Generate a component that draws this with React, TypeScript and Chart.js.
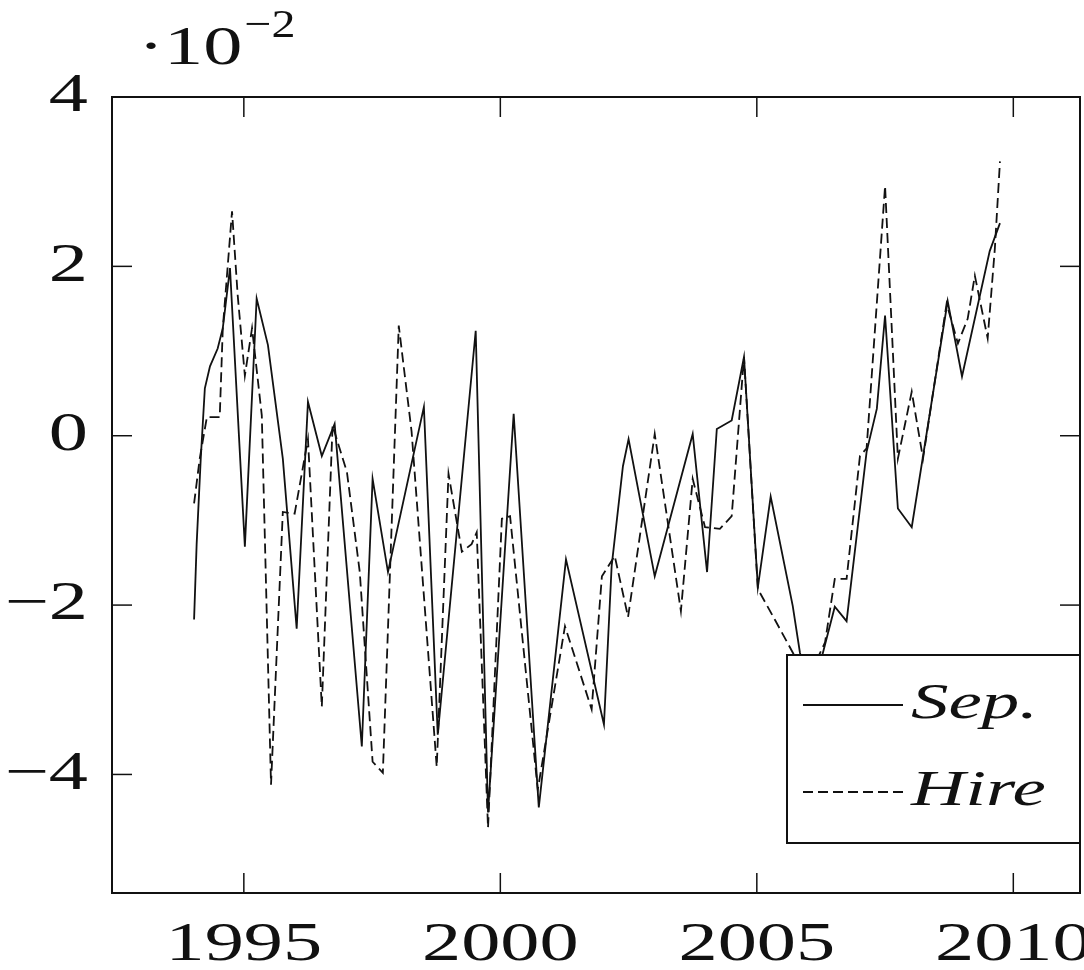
import React, { useEffect, useRef } from "react";
import { Chart, registerables } from "chart.js";

Chart.register(...registerables);

// ---- data (values in units of 10^-2) ----
const sepYears = [
  1994.03, 1994.08, 1994.16, 1994.24, 1994.34, 1994.49, 1994.59, 1994.73, 1995.02, 1995.25,
  1995.47, 1995.76, 1996.03, 1996.25, 1996.52, 1996.77, 1997.3, 1997.51, 1997.81, 1998.51,
  1998.78, 1999.52, 1999.76, 2000.26, 2000.75, 2001.28, 2002.02, 2002.17, 2002.39, 2002.5,
  2003.01, 2003.75, 2004.03, 2004.22, 2004.51, 2004.75, 2005.02, 2005.27, 2005.7, 2005.84,
  2006.05, 2006.29, 2006.52, 2006.75, 2007.14, 2007.34, 2007.5, 2007.75, 2008.02, 2008.72,
  2009.0, 2009.54, 2009.74,
];
const sepValues = [
  -2.17, -1.28, -0.27, 0.56, 0.82, 1.03, 1.27, 1.98, -1.31, 1.62,
  1.07, -0.27, -2.28, 0.4, -0.24, 0.14, -3.67, -0.51, -1.61, 0.34,
  -3.53, 1.24, -4.45, 0.26, -4.39, -1.46, -3.41, -1.54, -0.36, -0.04,
  -1.66, 0.02, -1.61, 0.08, 0.18, 0.93, -1.79, -0.72, -2.01, -2.56,
  -3.1, -2.56, -2.02, -2.19, -0.19, 0.32, 1.42, -0.86, -1.08, 1.59,
  0.7, 2.18, 2.51,
];
const hireYears = [
  1994.03, 1994.14, 1994.28, 1994.53, 1994.59, 1994.77, 1994.88, 1995.02, 1995.16, 1995.35,
  1995.53, 1995.76, 1995.99, 1996.25, 1996.52, 1996.73, 1997.01, 1997.26, 1997.51, 1997.71,
  1998.02, 1998.27, 1998.76, 1998.99, 1999.25, 1999.44, 1999.54, 1999.76, 2000.03, 2000.19,
  2000.73, 2001.26, 2001.78, 2001.98, 2002.23, 2002.49, 2003.01, 2003.52, 2003.75, 2003.99,
  2004.28, 2004.51, 2004.75, 2005.02, 2005.35, 2005.7, 2005.99, 2006.33, 2006.52, 2006.75,
  2007.01, 2007.14, 2007.5, 2007.75, 2008.02, 2008.24, 2008.7, 2008.92, 2009.11, 2009.25,
  2009.5, 2009.64, 2009.74,
];
const hireValues = [
  -0.8, -0.27, 0.22, 0.22, 1.27, 2.65, 1.66, 0.71, 1.27, 0.24,
  -4.12, -0.9, -0.92, -0.04, -3.2, 0.12, -0.43, -1.61, -3.85, -3.98,
  1.3, 0.05, -3.91, -0.45, -1.37, -1.28, -1.14, -4.63, -0.98, -0.95,
  -4.18, -2.25, -3.23, -1.66, -1.42, -2.14, 0.02, -2.07, -0.51, -1.08,
  -1.1, -0.95, 0.93, -1.81, -2.17, -2.56, -2.88, -2.44, -1.69, -1.69,
  -0.24, -0.15, 2.95, -0.27, 0.52, -0.27, 1.56, 1.09, 1.38, 1.89,
  1.15, 2.21, 3.24,
];
const seriesLabels = ["Sep.", "Hire"];
const xTicks = [1995, 2000, 2005, 2010];
const yTicks = [-4, -2, 0, 2, 4];
const yTickLabels = ["\u22124", "\u22122", "0", "2", "4"];
const xMin = 1992.43;
const xMax = 2011.3;
const yMin = -5.4;
const yMax = 4;
const exponentBase = "\u00b710";
const exponentPower = "\u22122";

const INK = "#111";
const LABEL_FONT = "54px 'Liberation Serif', 'DejaVu Serif', serif";
const SUP_FONT = "40px 'Liberation Serif', 'DejaVu Serif', serif";
const LEGEND_FONT = "italic 50px 'Liberation Serif', 'DejaVu Serif', serif";
const STRETCH = 1.45;

function stretchedText(
  ctx: CanvasRenderingContext2D,
  text: string,
  x: number,
  y: number,
  align: CanvasTextAlign,
  font: string,
  sx: number
) {
  ctx.save();
  ctx.font = font;
  ctx.fillStyle = INK;
  ctx.textBaseline = "middle";
  ctx.textAlign = align;
  ctx.translate(x, y);
  ctx.scale(sx, 1);
  ctx.fillText(text, 0, 0);
  ctx.restore();
}

const decorPlugin = {
  id: "decor",
  afterDatasetsDraw(chart: any) {
    const { ctx, chartArea: a, scales } = chart;
    const xs = scales.x;
    const ys = scales.y;
    ctx.save();
    ctx.strokeStyle = INK;

    // ticks (inward on all four sides)
    ctx.lineWidth = 1.5;
    const seg = (x1: number, y1: number, x2: number, y2: number) => {
      ctx.beginPath();
      ctx.moveTo(x1, y1);
      ctx.lineTo(x2, y2);
      ctx.stroke();
    };
    xTicks.forEach((t) => {
      const x = xs.getPixelForValue(t);
      seg(x, a.bottom, x, a.bottom - 20);
      seg(x, a.top, x, a.top + 20);
    });
    yTicks.forEach((t) => {
      const y = ys.getPixelForValue(t);
      seg(a.left, y, a.left + 20, y);
      seg(a.right, y, a.right - 20, y);
    });

    // frame
    ctx.lineWidth = 2;
    ctx.strokeRect(a.left, a.top, a.right - a.left, a.bottom - a.top);

    // tick labels
    xTicks.forEach((t) => {
      stretchedText(ctx, String(t), xs.getPixelForValue(t), a.bottom + 53, "center", LABEL_FONT, STRETCH);
    });
    yTicks.forEach((t, i) => {
      stretchedText(ctx, yTickLabels[i], a.left - 24, ys.getPixelForValue(t), "right", LABEL_FONT, STRETCH);
    });

    // exponent
    ctx.save();
    ctx.font = LABEL_FONT;
    const baseW = ctx.measureText(exponentBase).width * STRETCH;
    ctx.restore();
    stretchedText(ctx, exponentBase, a.left + 26, a.top - 47, "left", LABEL_FONT, STRETCH);
    stretchedText(ctx, exponentPower, a.left + 26 + baseW + 2, a.top - 71, "left", SUP_FONT, 1.2);

    // legend box
    const lx = a.right - 293;
    const ly = a.bottom - 238;
    const lw = 293;
    const lh = 188;
    ctx.fillStyle = "#fff";
    ctx.fillRect(lx, ly, lw, lh);
    ctx.lineWidth = 2;
    ctx.strokeRect(lx, ly, lw, lh);

    const rows = [ly + 50, ly + 137];
    chart.data.datasets.forEach((ds: any, i: number) => {
      ctx.save();
      ctx.strokeStyle = INK;
      ctx.lineWidth = ds.borderWidth;
      ctx.setLineDash(ds.borderDash || []);
      ctx.beginPath();
      ctx.moveTo(lx + 16, rows[i]);
      ctx.lineTo(lx + 116, rows[i]);
      ctx.stroke();
      ctx.restore();
      stretchedText(ctx, ds.label, lx + 124, rows[i], "left", LEGEND_FONT, 1.5);
    });

    ctx.restore();
  },
};

export default function App() {
  const canvasRef = useRef<HTMLCanvasElement | null>(null);

  useEffect(() => {
    const canvas = canvasRef.current;
    if (!canvas) return;
    const chart = new Chart(canvas, {
      type: "line",
      data: {
        datasets: [
          {
            label: seriesLabels[0],
            data: sepYears.map((x, i) => ({ x, y: sepValues[i] })),
            borderColor: INK,
            borderWidth: 1.8,
            pointRadius: 0,
            tension: 0,
            fill: false,
          },
          {
            label: seriesLabels[1],
            data: hireYears.map((x, i) => ({ x, y: hireValues[i] })),
            borderColor: INK,
            borderWidth: 1.8,
            borderDash: [10, 5],
            pointRadius: 0,
            tension: 0,
            fill: false,
          },
        ],
      },
      options: {
        animation: false,
        responsive: false,
        maintainAspectRatio: false,
        layout: { padding: { left: 112, right: 4, top: 97, bottom: 77 } },
        plugins: { legend: { display: false }, tooltip: { enabled: false } },
        scales: {
          x: { type: "linear", min: xMin, max: xMax, display: false },
          y: { type: "linear", min: yMin, max: yMax, display: false },
        },
      },
      plugins: [decorPlugin],
    });
    return () => chart.destroy();
  }, []);

  return (
    <div style={{ position: "absolute", left: 0, top: 0, width: 1084, height: 970, background: "#fff" }}>
      <canvas ref={canvasRef} width={1084} height={970} style={{ display: "block" }} />
    </div>
  );
}
